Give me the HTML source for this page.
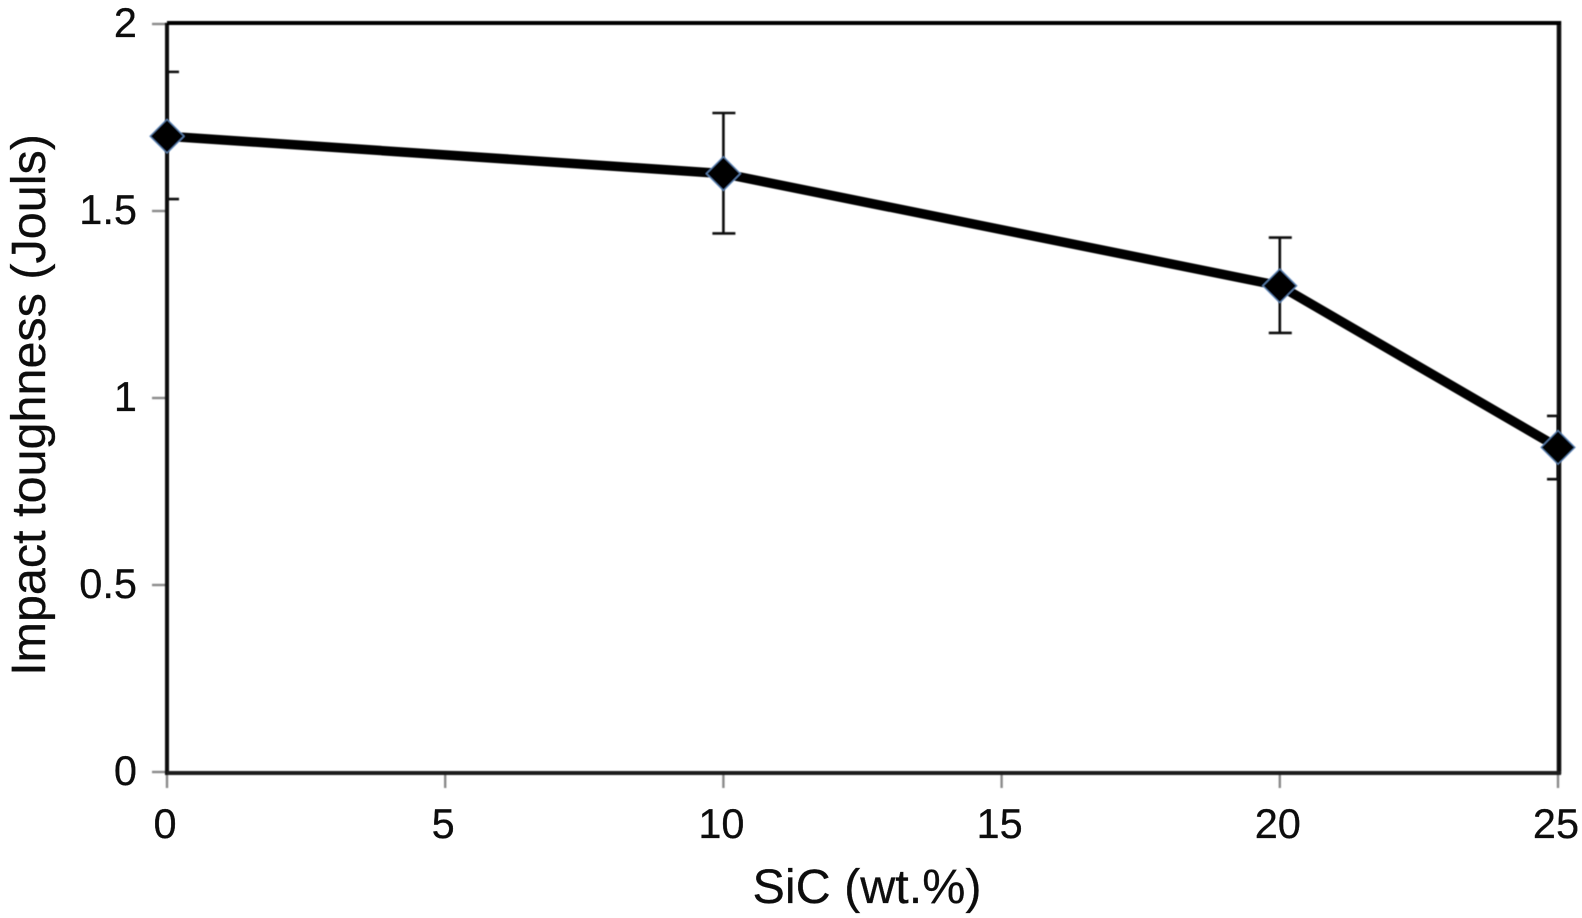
<!DOCTYPE html>
<html lang="en">
<head>
<meta charset="utf-8">
<title>Impact toughness vs SiC</title>
<style>
  html, body { margin: 0; padding: 0; background: #fff; }
  #chart-root { width: 1582px; height: 918px; display: block; overflow: hidden; }
  svg { display: block; }
  text { font-family: "Liberation Sans", sans-serif; fill: #0a0a0a; stroke: #0a0a0a; stroke-width: 0.25; }
</style>
</head>
<body>
<div id="chart-root">
<svg id="chart" width="1582" height="918" viewBox="0 0 1582 918" xmlns="http://www.w3.org/2000/svg">
  <defs>
    <filter id="soft" x="-5%" y="-5%" width="110%" height="110%"><feGaussianBlur stdDeviation="0.55"/></filter>
    <filter id="soft-text" x="-5%" y="-5%" width="110%" height="110%"><feGaussianBlur stdDeviation="0.35"/></filter>
    <clipPath id="plot-clip"><rect x="167" y="23" width="392" height="750" id="plot-clip-rect"/></clipPath>
  </defs>
  <g id="ticks" filter="url(#soft)"></g>
  <g id="frame" filter="url(#soft)"></g>
  <g id="errors" filter="url(#soft)"></g>
  <g id="series" filter="url(#soft)"></g>
  <g id="labels" filter="url(#soft-text)"></g>
</svg>
</div>
<script>
const xTickValues = [0, 5, 10, 15, 20, 25];
const yTickValues = [0, 0.5, 1, 1.5, 2];
const yTickLabels = ['0', '0.5', '1', '1.5', '2'];
const sicContent = [0, 10, 20, 25];
const toughness = [1.70, 1.60, 1.30, 0.868];
const errorUpper = [1.872, 1.762, 1.429, 0.952];
const errorLower = [1.532, 1.44, 1.174, 0.783];

const plotLeft = 167, plotRight = 1558, plotTop = 24, plotBottom = 772;
const xMax = 25, yMax = 2;
const NS = 'http://www.w3.org/2000/svg';

function xScale(v) { return plotLeft + (v / xMax) * (plotRight - plotLeft); }
function yScale(v) { return plotBottom - (v / yMax) * (plotBottom - plotTop); }

function make(tag, attrs, parent) {
  const el = document.createElementNS(NS, tag);
  for (const k in attrs) el.setAttribute(k, attrs[k]);
  parent.appendChild(el);
  return el;
}

const ticksG = document.getElementById('ticks');
const frameG = document.getElementById('frame');
const errorsG = document.getElementById('errors');
const seriesG = document.getElementById('series');
const labelsG = document.getElementById('labels');

document.getElementById('plot-clip-rect').setAttribute('x', xScale(0));
document.getElementById('plot-clip-rect').setAttribute('width', xScale(xMax) - xScale(0) + 1);

xTickValues.forEach(function (v) {
  const t = make('line', { x1: xScale(v), x2: xScale(v), y1: plotBottom, y2: plotBottom + 16, stroke: '#8a8a8a', 'stroke-width': 2.4 }, ticksG);
  
  
  const l = make('text', { x: xScale(v) - 2, y: 838, 'font-size': 41.5, 'text-anchor': 'middle' }, labelsG);
  l.textContent = String(v);
  
  
});

yTickValues.forEach(function (v, i) {
  const t = make('line', { x1: plotLeft - 15, x2: plotLeft, y1: yScale(v), y2: yScale(v), stroke: '#8a8a8a', 'stroke-width': 2.4 }, ticksG);
  
  
  const l = make('text', { x: 137, y: yScale(v) + 13, 'font-size': 41.5, 'text-anchor': 'end' }, labelsG);
  l.textContent = yTickLabels[i];
  
  
});

const axisLeft = make('line', { x1: plotLeft, x2: plotLeft, y1: plotTop - 1, y2: plotBottom + 3, stroke: '#111', 'stroke-width': 4 }, frameG);


const axisRight = make('line', { x1: plotRight + 1, x2: plotRight + 1, y1: plotTop - 3, y2: plotBottom + 2, stroke: '#0a0a0a', 'stroke-width': 4.5 }, frameG);


const axisTop = make('line', { x1: plotLeft, x2: plotRight + 3, y1: plotTop - 1, y2: plotTop - 1, stroke: '#000', 'stroke-width': 4 }, frameG);


const axisBottom = make('line', { x1: plotLeft, x2: plotRight + 3, y1: plotBottom + 1, y2: plotBottom + 1, stroke: '#1c1c1c', 'stroke-width': 4 }, frameG);



const clipped = make('g', { 'clip-path': 'url(#plot-clip)' }, errorsG);
sicContent.forEach(function (x, i) {
  const cx = xScale(x);
  const bar = make('g', {}, clipped);
  
  
  make('line', { x1: cx, x2: cx, y1: yScale(errorUpper[i]), y2: yScale(errorLower[i]), stroke: '#111', 'stroke-width': 2.6 }, bar);
  make('line', { x1: cx - 11, x2: cx + 12, y1: yScale(errorUpper[i]), y2: yScale(errorUpper[i]), stroke: '#111', 'stroke-width': 2.6 }, bar);
  make('line', { x1: cx - 11, x2: cx + 12, y1: yScale(errorLower[i]), y2: yScale(errorLower[i]), stroke: '#111', 'stroke-width': 2.6 }, bar);
});

const linePoints = sicContent.map(function (x, i) { return xScale(x) + ',' + yScale(toughness[i]); }).join(' ');
const seriesLine = make('polyline', { points: linePoints, fill: 'none', stroke: '#000', 'stroke-width': 9.5, 'stroke-linejoin': 'round' }, seriesG);



sicContent.forEach(function (x, i) {
  const cx = xScale(x), cy = yScale(toughness[i]), r = 17;
  const m = make('polygon', {
    points: cx + ',' + (cy - r) + ' ' + (cx + r) + ',' + cy + ' ' + cx + ',' + (cy + r) + ' ' + (cx - r) + ',' + cy,
    fill: '#000', stroke: '#5f86b8', 'stroke-width': 1.2
  }, seriesG);
  
  
});

const xTitle = make('text', { x: 867, y: 903, 'font-size': 48.5, 'text-anchor': 'middle' }, labelsG);
xTitle.textContent = 'SiC (wt.%)';



const yTitle = make('text', { x: 0, y: 0, 'font-size': 48.5, 'text-anchor': 'middle', transform: 'translate(45,405) rotate(-90)' }, labelsG);
yTitle.textContent = 'Impact toughness (Jouls)';


</script>
</body>
</html>
